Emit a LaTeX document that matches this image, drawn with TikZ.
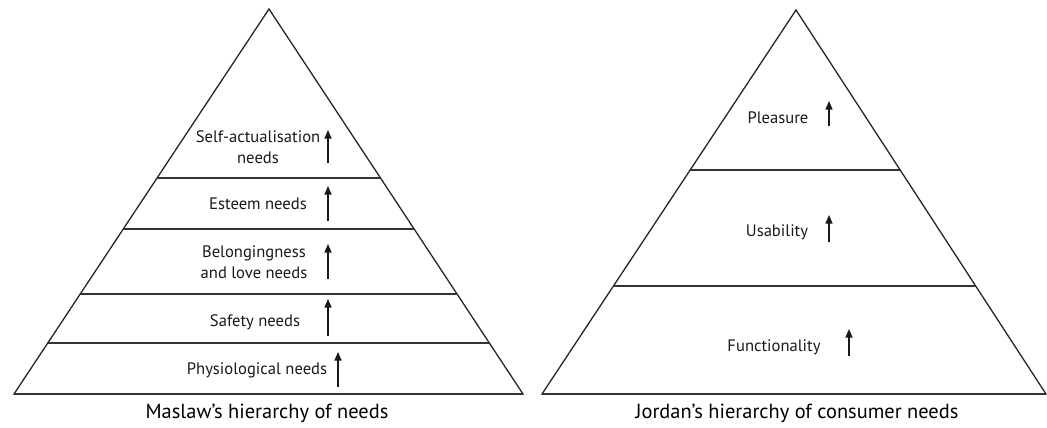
\documentclass[tikz,border=0pt]{standalone}
\usepackage{fontspec}
\setmainfont{PT Sans}
\usetikzlibrary{arrows.meta}
\begin{document}
\begin{tikzpicture}[x=1pt,y=-1pt,
  edge/.style={line width=1.3pt, draw=black!85, line join=miter},
  tier/.style={line width=1.4pt, draw=black!80},
  lbl/.style={font=\fontsize{16.6}{21}\selectfont, align=center, inner sep=0pt, text=black!90},
  caption/.style={font=\fontsize{20.4}{24}\selectfont, inner sep=0pt, text=black},
  up/.style={line width=1.3pt, -{Triangle[width=7pt,length=8.5pt]}, black!90}]
  \useasboundingbox (0,0) rectangle (1047,428);

  % ---------- Maslow pyramid ----------
  \coordinate (mA) at (269,9);
  \coordinate (mL) at (14,394);
  \coordinate (mR) at (523,394);
  \draw[edge] (mL) -- (mA) -- (mR) -- cycle;
  \foreach \y [count=\i] in {178,229,294,343}{
    \path (mA) -- (mL) coordinate[pos={(\y-9)/385}] (ml\i);
    \path (mA) -- (mR) coordinate[pos={(\y-9)/385}] (mr\i);
    \draw[tier] (ml\i) -- (mr\i);
  }
  \draw[tier] (mL) -- (mR);

  \node[lbl] (m5) at (258,147) {Self-actualisation\\needs};
  \node[lbl] (m4) at (258,204) {Esteem needs};
  \node[lbl] (m3) at (254,262) {Belongingness\\and love needs};
  \node[lbl] (m2) at (255,322) {Safety needs};
  \node[lbl] (m1) at (257,370) {Physiological needs};

  \coordinate (ma5s) at (328,163); \coordinate (ma5e) at (328,130);
  \coordinate (ma4s) at (328,221); \coordinate (ma4e) at (328,186);
  \coordinate (ma3s) at (328,279); \coordinate (ma3e) at (328,244);
  \coordinate (ma2s) at (328,336); \coordinate (ma2e) at (328,299);
  \coordinate (ma1s) at (338,387); \coordinate (ma1e) at (338,352);
  \foreach \i in {1,...,5} \draw[up] (ma\i s) -- (ma\i e);

  \node[caption] (mcap) at (267,413) {Maslaw’s hierarchy of needs};

  % ---------- Jordan pyramid ----------
  \coordinate (jA) at (796,10);
  \coordinate (jL) at (542,394);
  \coordinate (jR) at (1046,394);
  \draw[edge] (jL) -- (jA) -- (jR) -- cycle;
  \foreach \y [count=\i] in {170,286}{
    \path (jA) -- (jL) coordinate[pos={(\y-10)/384}] (jl\i);
    \path (jA) -- (jR) coordinate[pos={(\y-10)/384}] (jr\i);
    \draw[tier] (jl\i) -- (jr\i);
  }
  \draw[tier] (jL) -- (jR);

  \node[lbl] (j3) at (778,118) {Pleasure};
  \node[lbl] (j2) at (777,232) {Usability};
  \node[lbl] (j1) at (774,347) {Functionality};

  \coordinate (ja3s) at (829,126); \coordinate (ja3e) at (829,101);
  \coordinate (ja2s) at (829,242); \coordinate (ja2e) at (829,215);
  \coordinate (ja1s) at (849,356); \coordinate (ja1e) at (849,329);
  \foreach \i in {1,2,3} \draw[up] (ja\i s) -- (ja\i e);

  \node[caption] (jcap) at (797,413) {Jordan’s hierarchy of consumer needs};
\end{tikzpicture}
\end{document}
